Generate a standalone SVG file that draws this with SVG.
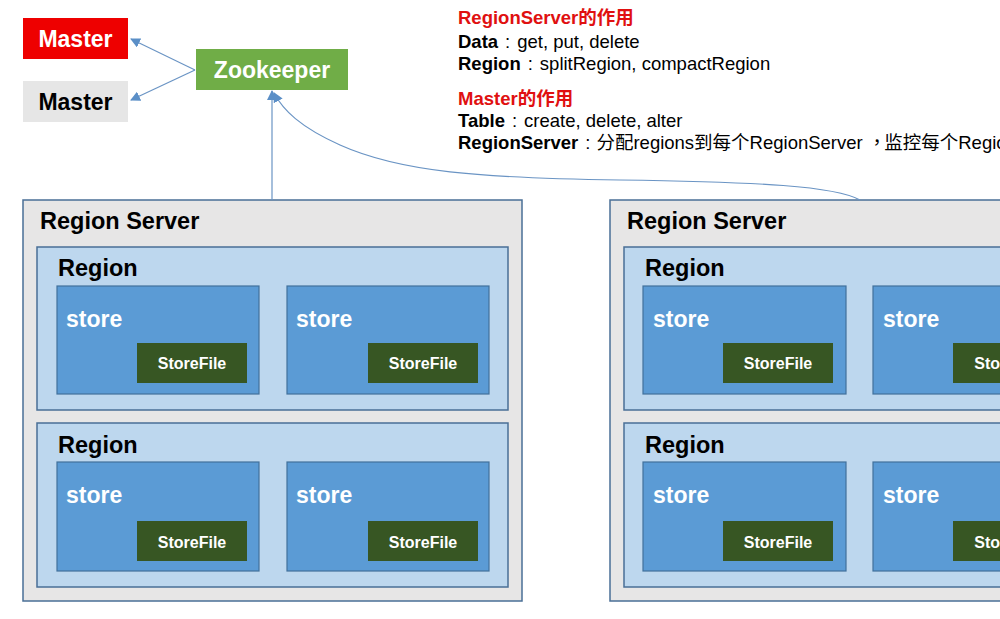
<svg xmlns="http://www.w3.org/2000/svg" width="1000" height="619" viewBox="0 0 1000 619">
<style>
text{font-family:"Liberation Sans",Arial,"Noto Sans CJK SC",sans-serif}
.b{font-weight:bold}
.tc{font-family:"Noto Sans CJK TC","Noto Sans CJK SC",sans-serif}
.node{font-size:23px;font-weight:bold}
.rs{fill:#e7e6e6;stroke:#4a6f96;stroke-width:1.5}
.rg{fill:#bdd7ee;stroke:#4a6f96;stroke-width:1.5}
.st{fill:#5b9bd5;stroke:#41719c;stroke-width:1.2}
.sf{fill:#375623}
.sft{font-size:16px;font-weight:bold;fill:#fff;text-anchor:middle}
.stt{font-size:23px;font-weight:bold;fill:#fff}
.lbl{font-size:23.5px;font-weight:bold;fill:#000}
.info{font-size:18.5px;fill:#000}
.red{fill:#e01010;font-weight:bold}
.conn{fill:none;stroke:#6a94c4;stroke-width:1.2}
</style>
<defs>
<marker id="ah" viewBox="0 0 10 10" refX="9" refY="5" markerWidth="10" markerHeight="10" markerUnits="userSpaceOnUse" orient="auto">
<path d="M0,0 L10,5 L0,10 z" fill="#5b8fc7"/>
</marker>
</defs>
<rect width="1000" height="619" fill="#fff"/>

<g id="master-active">
<rect x="23" y="18" width="105" height="41" fill="#ee0000"/>
<text x="75.5" y="47" class="node" fill="#fff" text-anchor="middle">Master</text>
</g>
<g id="master-backup">
<rect x="23" y="81" width="105" height="41" fill="#e6e6e6"/>
<text x="75.5" y="110" class="node" fill="#000" text-anchor="middle">Master</text>
</g>
<g id="zookeeper">
<rect x="196" y="49" width="152" height="41" fill="#70ad47"/>
<text x="272" y="78" class="node" fill="#fff" text-anchor="middle">Zookeeper</text>
</g>

<g id="info">
<text x="458" y="24" class="info red">RegionServer的作用</text>
<text x="458" y="48" class="info"><tspan class="b">Data</tspan><tspan dx="7">:</tspan><tspan dx="7">get, put, delete</tspan></text>
<text x="458" y="70" class="info"><tspan class="b">Region</tspan><tspan dx="7">:</tspan><tspan dx="7">splitRegion, compactRegion</tspan></text>
<text x="458" y="105" class="info red">Master的作用</text>
<text x="458" y="127" class="info"><tspan class="b">Table</tspan><tspan dx="7">:</tspan><tspan dx="7">create, delete, alter</tspan></text>
<text x="458" y="149" class="info"><tspan class="b">RegionServer</tspan><tspan dx="7">:</tspan><tspan dx="6">分配regions到每个RegionServer</tspan><tspan class="tc" dx="5">，</tspan><tspan dx="-2">监控每个RegionServer</tspan></text>
</g>

<g id="regionserver-1">
<rect class="rs" x="23" y="200" width="499" height="401"/>
<text x="40" y="229" class="lbl">Region Server</text>
<g id="rs1-region-1">
<rect class="rg" x="37" y="247" width="471" height="163"/>
<text x="58" y="276" class="lbl">Region</text>
<rect class="st" x="57" y="286" width="202" height="108"/>
<text x="66" y="327" class="stt">store</text>
<rect class="sf" x="137" y="343" width="110" height="40"/>
<text x="192" y="369" class="sft">StoreFile</text>
<rect class="st" x="287" y="286" width="202" height="108"/>
<text x="296" y="327" class="stt">store</text>
<rect class="sf" x="368" y="343" width="110" height="40"/>
<text x="423" y="369" class="sft">StoreFile</text>
</g>
<g id="rs1-region-2">
<rect class="rg" x="37" y="423" width="471" height="164"/>
<text x="58" y="453" class="lbl">Region</text>
<rect class="st" x="57" y="462" width="202" height="109"/>
<text x="66" y="503" class="stt">store</text>
<rect class="sf" x="137" y="521" width="110" height="40"/>
<text x="192" y="548" class="sft">StoreFile</text>
<rect class="st" x="287" y="462" width="202" height="109"/>
<text x="296" y="503" class="stt">store</text>
<rect class="sf" x="368" y="521" width="110" height="40"/>
<text x="423" y="548" class="sft">StoreFile</text>
</g>
</g>

<g id="regionserver-2">
<rect class="rs" x="610" y="200" width="420" height="401"/>
<text x="627" y="229" class="lbl">Region Server</text>
<g id="rs2-region-1">
<rect class="rg" x="624" y="247" width="420" height="163"/>
<text x="645" y="276" class="lbl">Region</text>
<rect class="st" x="643" y="286" width="203" height="108"/>
<text x="653" y="327" class="stt">store</text>
<rect class="sf" x="723" y="343" width="110" height="40"/>
<text x="778" y="369" class="sft">StoreFile</text>
<rect class="st" x="873" y="286" width="203" height="108"/>
<text x="883" y="327" class="stt">store</text>
<rect class="sf" x="953" y="343" width="111" height="40"/>
<text x="1008.5" y="369" class="sft">StoreFile</text>
</g>
<g id="rs2-region-2">
<rect class="rg" x="624" y="423" width="420" height="164"/>
<text x="645" y="453" class="lbl">Region</text>
<rect class="st" x="643" y="462" width="203" height="109"/>
<text x="653" y="503" class="stt">store</text>
<rect class="sf" x="723" y="521" width="110" height="40"/>
<text x="778" y="548" class="sft">StoreFile</text>
<rect class="st" x="873" y="462" width="203" height="109"/>
<text x="883" y="503" class="stt">store</text>
<rect class="sf" x="953" y="521" width="111" height="40"/>
<text x="1008.5" y="548" class="sft">StoreFile</text>
</g>
</g>

<g id="connectors">
<line class="conn" x1="195" y1="70" x2="131" y2="39" marker-end="url(#ah)"/>
<line class="conn" x1="195" y1="70" x2="131" y2="100" marker-end="url(#ah)"/>
<line class="conn" x1="272" y1="200" x2="272" y2="91" marker-end="url(#ah)"/>
<path class="conn" d="M860 200 C835 186 760 182 620 180 C480 178 400 172 340 145 C300 127 283 110 274 93" marker-end="url(#ah)"/>
</g>
</svg>
